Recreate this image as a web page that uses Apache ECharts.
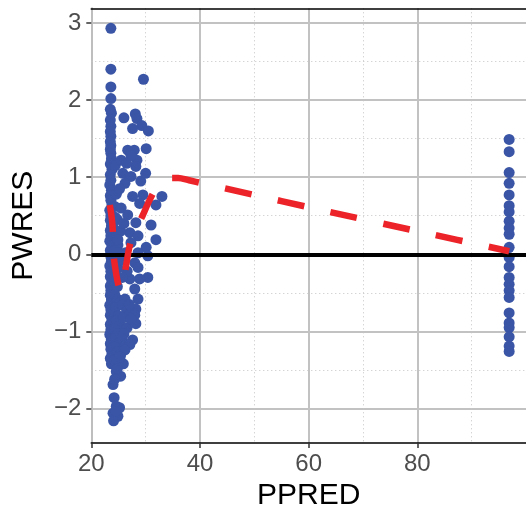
<!DOCTYPE html>
<html>
<head>
<meta charset="utf-8">
<script src="https://cdn.jsdelivr.net/npm/echarts@6/dist/echarts.min.js"></script>
<style>html,body{margin:0;padding:0;background:#fff;}#c{width:526px;height:516px;}</style>
</head>
<body>
<div id="c"></div>
<script>
// ---- data ----
var xTicks = [20, 40, 60, 80];
var yTicks = [-2, -1, 0, 1, 2, 3];
var yMinorGrid = [-1.5, -0.5, 0.5, 1.5, 2.5];
var refLineY = [0];

// low-PPRED cluster [PPRED, PWRES]
var clusterTop = [
  [23.6,2.93],[23.6,2.40],[29.6,2.27],[23.6,2.17],[23.6,2.02],[23.5,1.88],[23.7,1.83],[23.5,1.74],
  [23.6,1.66],[23.5,1.59],[23.6,1.53],[23.5,1.46],[23.6,1.41],[23.5,1.36],[23.6,1.31],
  [26.0,1.77],[28.1,1.82],[28.4,1.76],[27.6,1.63],[29.3,1.67],[30.5,1.60],[26.7,1.35],[27.9,1.35],
  [27.3,1.31],[30.1,1.37],[28.4,1.22]
];
var clusterMid = [
  [23.7,1.24],[23.5,1.17],[23.8,1.10],[23.5,1.03],[23.6,0.96],[23.4,0.90],[23.7,0.83],[23.5,0.76],
  [23.6,0.70],[23.8,0.64],[23.4,0.57],[23.6,0.50],[23.5,0.44],[23.7,0.37],[23.5,0.31],[23.6,0.24],
  [23.4,0.17],[23.8,0.11],[23.5,0.05],[23.6,-0.03],[23.7,-0.09],[23.4,-0.15],[23.6,-0.22],[23.5,-0.29],
  [23.8,-0.35],[23.5,-0.41],[23.6,-0.47],
  [24.4,1.15],[24.6,0.78],[24.3,0.62],[24.8,0.45],[24.2,0.33],[24.6,0.22],[24.9,0.12],[24.3,0.05],
  [24.7,-0.04],[24.2,-0.12],[24.9,-0.18],[24.5,-0.27],[24.3,-0.36],[24.8,-0.42],[25.1,0.02],[24.4,0.48],
  [25.5,1.22],[27.3,1.28],[28.2,1.14],[25.8,1.05],[27.3,1.01],[26.2,0.92],[29.5,0.77],[33.0,0.75],
  [28.9,0.66],[31.9,0.64],[25.5,0.60],[26.7,0.51],[28.2,0.41],[31.0,0.38],[27.1,0.28],[25.4,0.30],
  [31.9,0.19],[28.6,0.24],[30.1,0.09],[27.3,0.15],[24.9,0.19],[30.4,-0.02],[28.6,0.02],[28.0,-0.11],
  [28.6,-0.17],[30.4,-0.30],[28.9,-0.32],[27.1,-0.32],[28.0,-0.45],[26.3,0.02],[25.9,-0.08],[26.6,-0.22],
  [25.7,-0.30],[26.0,0.40],[27.6,0.75],[26.5,1.18],[25.2,0.85],[29.1,0.95],[30.0,1.05]
];
var clusterLow = [
  [23.5,-0.53],[23.7,-0.59],[23.4,-0.66],[23.6,-0.72],[23.5,-0.79],[23.8,-0.85],[23.5,-0.91],[23.6,-0.98],
  [23.4,-1.04],[23.7,-1.10],[23.5,-1.16],[23.6,-1.23],[23.8,-1.29],[23.5,-1.35],[23.7,-1.42],
  [24.3,-0.52],[24.8,-0.58],[25.2,-0.63],[24.5,-0.69],[24.2,-0.75],[25.0,-0.80],[24.6,-0.86],[25.3,-0.92],
  [24.3,-0.97],[24.9,-1.03],[24.5,-1.09],[25.2,-1.14],[24.2,-1.20],[24.8,-1.26],[25.4,-1.30],[24.5,-1.44],
  [26.2,-0.58],[25.8,-0.66],[26.5,-0.74],[25.9,-0.82],[26.6,-0.95],[26.0,-1.03],[25.7,-1.10],[26.4,-1.18],
  [25.9,-1.42],
  [28.6,-0.58],[28.2,-0.71],[28.0,-0.79],[28.2,-0.90],[27.3,-0.84],[27.6,-1.11],[27.1,-1.17],[26.2,-1.24],
  [27.0,-0.65],[24.3,-1.37],[25.3,-1.33],[24.6,-1.52],[25.4,-1.58],[24.0,-1.69],[24.2,-1.86],[24.6,-1.97],
  [25.2,-1.99],[24.0,-2.06],[24.9,-2.10],[24.1,-2.16],[24.5,-2.03],[24.3,-1.62],[24.8,-1.48]
];
// high-PPRED column
var highColumn = [
  [96.9,1.49],[96.9,1.33],[96.9,1.06],[96.9,0.92],[96.9,0.77],[96.9,0.63],[96.9,0.55],[96.9,0.43],
  [96.9,0.34],[96.9,0.26],[96.9,0.09],[96.9,-0.04],[96.9,-0.16],[96.9,-0.30],[96.9,-0.39],[96.9,-0.47],
  [96.9,-0.56],[96.9,-0.76],[96.9,-0.89],[96.9,-0.95],[96.9,-1.07],[96.9,-1.19],[96.9,-1.26]
];
// smooth (loess) trend
var smoothX = [23.4, 23.8, 24.0, 24.1, 24.5, 25.0, 25.5, 25.9, 26.4, 27.1, 28.2, 29.5, 30.5, 31.7, 33.0, 34.5, 36.0, 38.0, 40.5, 50, 60, 80, 96.9];
var smoothY = [0.64, 0.45, 0.25, 0.0, -0.22, -0.40, -0.47, -0.38, -0.15, 0.12, 0.32, 0.51, 0.67, 0.83, 0.94, 0.99, 0.99, 0.96, 0.92, 0.77, 0.61, 0.30, 0.04];

// ---- chart ----
var allPoints = clusterTop.concat(clusterMid, clusterLow, highColumn);
var smoothData = smoothX.map(function (x, i) { return [x, smoothY[i]]; });
var minus = function (v) { return String(v).replace('-', '\u2212'); };
var chart = echarts.init(document.getElementById('c'), null, { renderer: 'canvas' });
var FONT = '"Liberation Sans", Arial, Helvetica, sans-serif';

chart.setOption({
  animation: false,
  backgroundColor: '#ffffff',
  grid: { left: 91.3, right: -2.1, top: 8.3, bottom: 68.7, containLabel: false },
  xAxis: [{
    type: 'value', min: 20, max: 100, interval: 20,
    name: 'PPRED', nameLocation: 'middle', nameGap: 38,
    nameTextStyle: { color: '#000', fontSize: 30, fontFamily: FONT },
    axisLine: { show: true, onZero: false, lineStyle: { color: '#000', width: 1.6 } },
    axisTick: { show: true, length: 5, customValues: xTicks, lineStyle: { color: '#333', width: 1.5 } },
    axisLabel: { show: true, customValues: xTicks, margin: 9, color: '#4d4d4d', fontSize: 24, fontFamily: FONT, formatter: minus },
    splitLine: { show: true, lineStyle: { color: '#c2c2c2', width: 2 } },
    minorTick: { show: false, splitNumber: 2 },
    minorSplitLine: { show: true, lineStyle: { color: '#c4c4c4', width: 1, type: [1, 3] } }
  }, {
    type: 'value', min: 20, max: 100, position: 'top',
    axisLine: { show: true, onZero: false, lineStyle: { color: '#000', width: 1.6 } },
    axisTick: { show: false }, axisLabel: { show: false }, splitLine: { show: false }
  }],
  yAxis: {
    type: 'value', min: -2.447, max: 3.19, minInterval: 1, maxInterval: 1,
    name: 'PWRES', nameLocation: 'middle', nameGap: 53, nameRotate: 90,
    nameTextStyle: { color: '#000', fontSize: 30, fontFamily: FONT },
    axisLine: { show: true, onZero: false, lineStyle: { color: '#bebebe', width: 2 } },
    axisTick: { show: true, length: 5, customValues: yTicks, lineStyle: { color: '#333', width: 1.5 } },
    axisLabel: { show: true, customValues: yTicks, margin: 10, color: '#4d4d4d', fontSize: 24, fontFamily: FONT, formatter: minus },
    splitLine: { show: true, lineStyle: { color: '#c2c2c2', width: 2 } }
  },
  series: [
    {
      type: 'line', data: [], silent: true, z: 1,
      markLine: {
        silent: true, symbol: 'none', z: 1, animation: false, label: { show: false },
        lineStyle: { color: '#c4c4c4', width: 1, type: [1, 3] },
        data: yMinorGrid.map(function (v) { return { yAxis: v }; })
      }
    },
    {
      type: 'scatter', data: allPoints, symbol: 'circle', symbolSize: 11, z: 2,
      itemStyle: { color: '#3a55a5', opacity: 1 }
    },
    {
      type: 'line', data: [], silent: true, z: 3,
      markLine: {
        silent: true, symbol: 'none', z: 3, animation: false, label: { show: false },
        lineStyle: { color: '#000', width: 4, type: 'solid' },
        data: refLineY.map(function (v) { return { yAxis: v }; })
      }
    },
    {
      type: 'line', data: smoothData, smooth: 0.3, showSymbol: false, symbol: 'none', z: 4,
      lineStyle: { color: '#ec2328', width: 6.5, type: [27, 27], cap: 'butt' }
    }
  ]
});
</script>
</body>
</html>
